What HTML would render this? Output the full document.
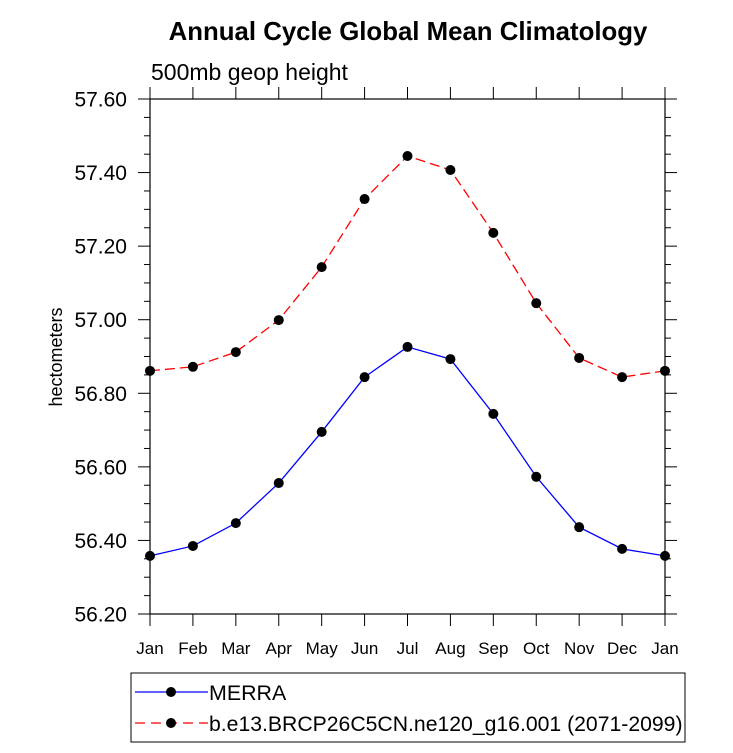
<!DOCTYPE html>
<html><head><meta charset="utf-8"><style>
body{margin:0;background:#fff;}
svg text{font-family:"Liberation Sans",sans-serif;fill:#000;}
</style></head><body>
<svg id="chart" width="733" height="748" xmlns="http://www.w3.org/2000/svg">
<text x="408" y="40" font-size="25.8" font-weight="bold" text-anchor="middle">Annual Cycle Global Mean Climatology</text>
<text x="151" y="80" font-size="23">500mb geop height</text>
<text transform="translate(62,357) rotate(-90)" font-size="18" text-anchor="middle">hectometers</text>
<rect x="150" y="99" width="515" height="515" fill="none" stroke="#000" stroke-width="1.2"/>
<g id="axes"></g>
<g id="series"></g>
<g>
<rect x="131" y="673" width="554" height="69" fill="none" stroke="#000" stroke-width="1"/>
<line x1="135" y1="692" x2="208" y2="692" stroke="#0000ff" stroke-width="1.3"/>
<circle cx="171" cy="692" r="5" fill="#000"/>
<text x="209" y="700" font-size="21.4">MERRA</text>
<line x1="135" y1="723" x2="208" y2="723" stroke="#ff0000" stroke-width="1.3" stroke-dasharray="10,6"/>
<circle cx="171" cy="723" r="5" fill="#000"/>
<text x="209" y="731" font-size="21.2">b.e13.BRCP26C5CN.ne120_g16.001 (2071-2099)</text>
</g>
</svg>
<script>
const months=["Jan","Feb","Mar","Apr","May","Jun","Jul","Aug","Sep","Oct","Nov","Dec","Jan"];
const merra=[56.358,56.385,56.447,56.556,56.695,56.844,56.926,56.893,56.744,56.573,56.436,56.377,56.358];
const model=[56.861,56.872,56.912,56.999,57.143,57.328,57.445,57.407,57.236,57.045,56.896,56.844,56.861];
const yTicks=["56.20","56.40","56.60","56.80","57.00","57.20","57.40","57.60"];
const NS="http://www.w3.org/2000/svg";
const L=150,R=665,T=99,B=614,yMin=56.2,yMax=57.6;
function xs(i){return L+(R-L)*i/(months.length-1);}
function ys(v){return B-(v-yMin)/(yMax-yMin)*(B-T);}
function mk(tag,attrs,parent){const e=document.createElementNS(NS,tag);for(const k in attrs)e.setAttribute(k,attrs[k]);parent.appendChild(e);return e;}
const ax=document.getElementById('axes');
for(let v=yMin;v<=yMax+1e-6;v+=0.05){
 const y=ys(v);const major=Math.abs(Math.round(v*5)-v*5)<1e-6;const len=major?12:6;
 mk('line',{x1:L-len,y1:y,x2:L,y2:y,stroke:'#000','stroke-width':1},ax);
 mk('line',{x1:R,y1:y,x2:R+len,y2:y,stroke:'#000','stroke-width':1},ax);
}
yTicks.forEach(t=>{const e=mk('text',{x:127,y:ys(parseFloat(t))+7.5,'font-size':21,'text-anchor':'end'},ax);e.textContent=t;

});
months.forEach((m,i)=>{const x=xs(i);
 mk('line',{x1:x,y1:B,x2:x,y2:B+12,stroke:'#000','stroke-width':1},ax);
 mk('line',{x1:x,y1:T-12,x2:x,y2:T,stroke:'#000','stroke-width':1},ax);
 const e=mk('text',{x:x,y:654,'font-size':17,'text-anchor':'middle'},ax);e.textContent=m;
 
 });
const sg=document.getElementById('series');
function draw(vals,color,dash,name){
 const p=mk('polyline',{points:vals.map((v,i)=>xs(i)+','+ys(v)).join(' '),fill:'none',stroke:color,'stroke-width':1.3},sg);
 if(dash)p.setAttribute('stroke-dasharray',dash);
 
 
 vals.forEach((v,i)=>{const c=mk('circle',{cx:xs(i),cy:ys(v),r:5,fill:'#000'},sg);
  
  });
}
draw(model,'#ff0000','10,5','model');
draw(merra,'#0000ff',null,'merra');
</script>
</body></html>
